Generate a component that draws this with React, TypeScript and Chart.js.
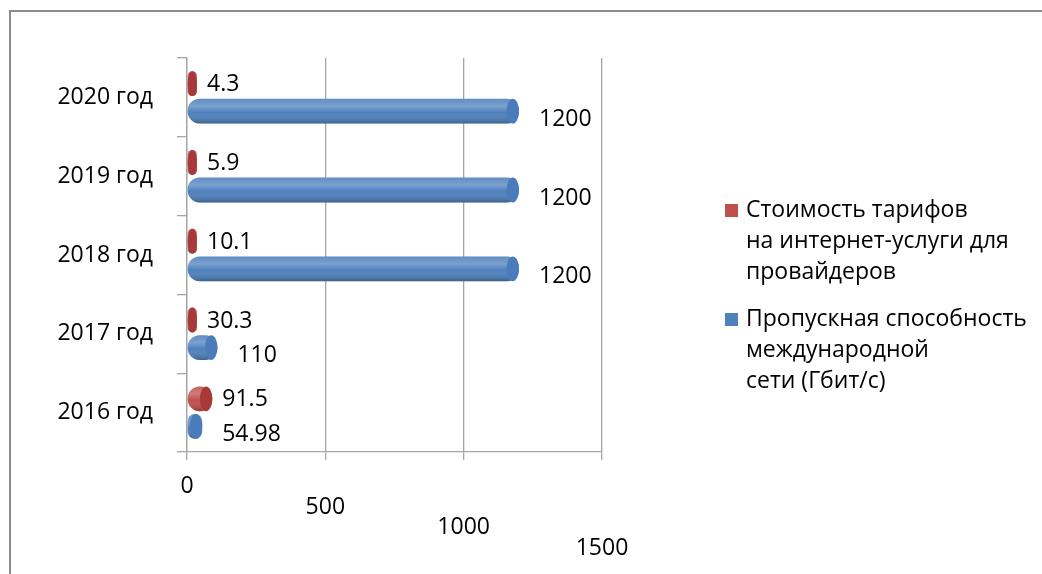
import React, { useEffect, useRef } from 'react';
import { Chart, registerables } from 'chart.js';

Chart.register(...registerables);

const categories = ['2020 год', '2019 год', '2018 год', '2017 год', '2016 год'];
const tariffValues = [4.3, 5.9, 10.1, 30.3, 91.5];
const bandwidthValues = [1200, 1200, 1200, 110, 54.98];
const tariffLegend = ['Стоимость тарифов', 'на интернет-услуги для', 'провайдеров'];
const bandwidthLegend = ['Пропускная способность', 'международной', 'сети (Гбит/с)'];
const xMin = 0;
const xMax = 1500;
const xStep = 500;

const FONT = '"Open Sans", "Noto Sans", sans-serif';
const RED = '#C0504D';
const BLUE = '#4F81BD';
const GRID = '#a6a6a6';

const cylinderPlugin = {
  id: 'cylinderShade',
  afterDatasetsDraw(chart: any) {
    const ctx = chart.ctx;
    chart.data.datasets.forEach((ds: any, di: number) => {
      const meta = chart.getDatasetMeta(di);
      meta.data.forEach((el: any) => {
        const { x, y, base, height } = el.getProps(['x', 'y', 'base', 'height'], true);
        const left = Math.min(x, base);
        const w = Math.abs(x - base);
        const top = y - height / 2;
        const r = Math.min(height / 2, w / 2);
        ctx.save();
        const g = ctx.createLinearGradient(0, top, 0, top + height);
        g.addColorStop(0, 'rgba(255,255,255,0.10)');
        g.addColorStop(0.3, 'rgba(255,255,255,0.25)');
        g.addColorStop(0.55, 'rgba(255,255,255,0.0)');
        g.addColorStop(1, 'rgba(0,0,0,0.25)');
        ctx.beginPath();
        ctx.roundRect(left, top, w, height, r);
        ctx.fillStyle = g;
        ctx.fill();
        const rx = Math.min(height / 4, w / 2);
        ctx.beginPath();
        ctx.ellipse(x - rx, y, rx, height / 2, 0, 0, Math.PI * 2);
        ctx.fillStyle = di === 0 ? '#A8393A' : '#4A7CBB';
        ctx.fill();
        ctx.restore();
      });
    });
  },
};

const valueLabelPlugin = {
  id: 'valueLabels',
  afterDatasetsDraw(chart: any) {
    const ctx = chart.ctx;
    ctx.save();
    ctx.font = `23px ${FONT}`;
    ctx.fillStyle = '#000';
    ctx.textBaseline = 'middle';
    ctx.textAlign = 'left';
    chart.data.datasets.forEach((ds: any, di: number) => {
      const meta = chart.getDatasetMeta(di);
      meta.data.forEach((el: any, i: number) => {
        const { x, y } = el.getProps(['x', 'y'], true);
        if (di === 0) ctx.fillText(String(ds.data[i]), x + 10, y + 1);
        else ctx.fillText(String(ds.data[i]), x + 20, y + 8);
      });
    });
    ctx.restore();
  },
};

const legendPlugin = {
  id: 'sideLegend',
  afterDraw(chart: any) {
    const ctx = chart.ctx;
    ctx.save();
    ctx.font = `23px ${FONT}`;
    ctx.textBaseline = 'middle';
    ctx.textAlign = 'left';
    const entries = [
      { color: RED, lines: tariffLegend, y: 210 },
      { color: BLUE, lines: bandwidthLegend, y: 319 },
    ];
    entries.forEach((e) => {
      ctx.fillStyle = e.color;
      ctx.fillRect(725, e.y - 6, 13, 13);
      ctx.fillStyle = '#000';
      e.lines.forEach((t, k) => ctx.fillText(t, 746, e.y + k * 31));
    });
    ctx.restore();
  },
};

export default function App() {
  const ref = useRef<HTMLCanvasElement | null>(null);
  useEffect(() => {
    if (!ref.current) return;
    const chart = new Chart(ref.current, {
      type: 'bar',
      data: {
        labels: categories,
        datasets: [
          {
            label: tariffLegend.join(' '),
            data: tariffValues,
            backgroundColor: RED,
            barPercentage: 0.9,
            categoryPercentage: 0.7,
            minBarLength: 10,
            borderRadius: 12,
            borderSkipped: false,
          },
          {
            label: bandwidthLegend.join(' '),
            data: bandwidthValues,
            backgroundColor: BLUE,
            barPercentage: 0.9,
            categoryPercentage: 0.7,
            minBarLength: 10,
            borderRadius: 12,
            borderSkipped: false,
          },
        ],
      },
      options: {
        indexAxis: 'y',
        animation: false,
        responsive: true,
        maintainAspectRatio: false,
        layout: { padding: { top: 58, right: 440, left: 0, bottom: 0 } },
        plugins: { legend: { display: false }, tooltip: { enabled: false } },
        scales: {
          x: {
            min: xMin,
            max: xMax,
            afterFit: (s: any) => { s.height = 122; },
            ticks: {
              stepSize: xStep,
              color: '#000',
              padding: 16,
              maxRotation: 0,
              font: { family: FONT, size: 23, lineHeight: 0.9 },
              callback: (v: any, i: number) => [...Array(i).fill(''), String(v)],
            },
            grid: { color: GRID, lineWidth: 1.3, tickLength: 8, drawTicks: true },
            border: { display: true, color: GRID, width: 1.3 },
          },
          y: {
            afterFit: (s: any) => { s.width = 187; },
            ticks: {
              color: '#000',
              padding: 24,
              font: { family: FONT, size: 23 },
            },
            grid: { drawOnChartArea: false, drawTicks: true, tickLength: 10, color: GRID, lineWidth: 1.3 },
            border: { display: true, color: GRID, width: 1.3 },
          },
        },
      },
      plugins: [cylinderPlugin, valueLabelPlugin, legendPlugin],
    });
    return () => chart.destroy();
  }, []);

  return (
    <div style={{ position: 'absolute', left: 0, top: 0, width: 1042, height: 574, background: '#fff' }}>
      <div
        style={{
          position: 'absolute',
          left: 9,
          top: 10,
          right: 0,
          bottom: 0,
          borderTop: '2px solid #8c8c8c',
          borderLeft: '2px solid #8c8c8c',
          pointerEvents: 'none',
        }}
      />
      <canvas ref={ref} />
    </div>
  );
}
